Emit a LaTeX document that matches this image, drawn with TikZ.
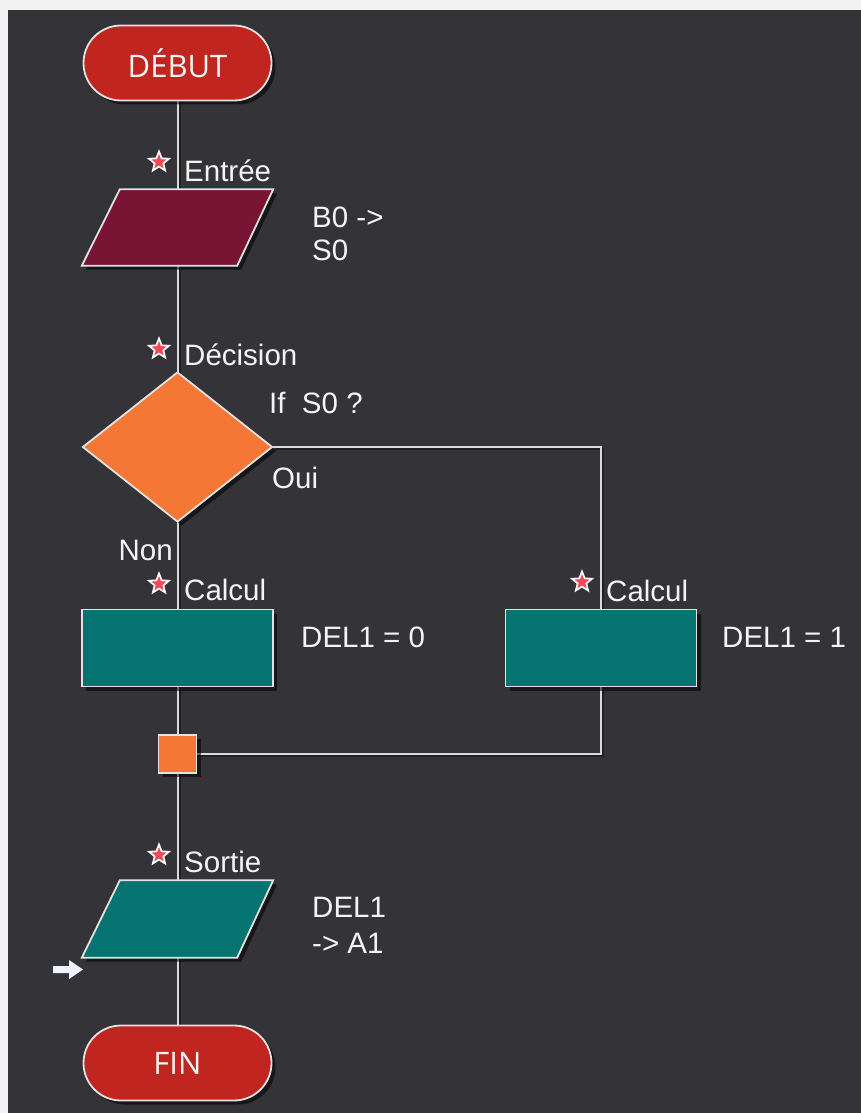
\documentclass[tikz,border=0pt]{standalone}
\usepackage{fontspec}
\usetikzlibrary{shapes.geometric,shapes.misc,shadows,calc}
\newfontfamily\labfont{Liberation Sans}
\newfontfamily\termfont{Open Sans}
\definecolor{frame}{RGB}{242,242,242}
\definecolor{bgdark}{RGB}{52,52,56}
\definecolor{termred}{RGB}{193,37,31}
\definecolor{inmaroon}{RGB}{122,20,52}
\definecolor{decorange}{RGB}{244,119,53}
\definecolor{calcteal}{RGB}{5,115,112}
\definecolor{wire}{RGB}{218,218,218}
\definecolor{edge}{RGB}{226,226,226}
\definecolor{starred}{RGB}{244,72,86}
\definecolor{txt}{RGB}{244,244,244}
\definecolor{cursor}{RGB}{236,244,255}
\begin{document}
\begin{tikzpicture}[x=1pt,y=-1pt,
  shadowed/.style={drop shadow={shadow xshift=4pt,shadow yshift=-4pt,fill=black,opacity=.55}},
  painted/.style={draw=edge,line width=1.8pt,shadowed},
  termshape/.style={rounded rectangle,minimum width=188pt,minimum height=75pt,inner sep=0pt},
  terminal/.style={termshape,painted,fill=termred,text=txt,
    font=\termfont\fontsize{31}{33}\selectfont},
  holder/.style={rectangle,minimum width=191pt,minimum height=76pt,inner sep=0pt},
  decshape/.style={diamond,minimum width=190pt,minimum height=150pt,inner sep=0pt},
  decision/.style={decshape,painted,fill=decorange},
  procshape/.style={rectangle,minimum width=191pt,minimum height=77pt,inner sep=0pt},
  process/.style={procshape,painted,fill=calcteal},
  jointshape/.style={rectangle,minimum size=38pt,inner sep=0pt},
  joint/.style={jointshape,painted,fill=decorange},
  stepstar/.style={star,star points=5,star point ratio=2.3,minimum size=21pt,inner sep=0pt,
    fill=starred,draw=white,line width=1.7pt},
  lbl/.style={anchor=base west,inner sep=0pt,text=txt,font=\labfont\fontsize{29.5}{31}\selectfont},
  lblr/.style={lbl,anchor=base east},
  wireline/.style={draw=wire,line width=2pt}
]
% frame and canvas
\fill[frame] (0,0) rectangle (861,1113);
\fill[bgdark] (8,10) rectangle (861,1113);
\useasboundingbox (0,0) rectangle (861,1113);

% outline nodes that the connectors attach to
\node[termshape] (debut) at (177.5,63) {};
\node[holder] (entree) at (177.5,227.5) {};
\node[decshape] (dec) at (177.5,447) {};
\node[procshape] (calcA) at (177.5,648) {};
\node[procshape] (calcB) at (601,648) {};
\node[jointshape] (joint) at (177.5,754) {};
\node[holder,minimum height=77pt] (sortie) at (177.5,919) {};
\node[termshape] (fin) at (177.5,1063) {};

% connectors (faint shadow, then the wire)
\begin{scope}[transform canvas={xshift=2pt,yshift=-2pt}]
\path[draw=black,opacity=.35,line width=2pt]
  (debut.south) -- (entree.north)
  (entree.south) -- (dec.north)
  (dec.south) -- (calcA.north)
  (dec.east) -| (calcB.north)
  (calcA.south) -- (joint.north)
  (calcB.south) |- (joint.east)
  (joint.south) -- (sortie.north)
  (sortie.south) -- (fin.north);
\end{scope}
\path[wireline] (debut.south) -- (entree.north);
\path[wireline] (entree.south) -- (dec.north);
\path[wireline] (dec.south) -- (calcA.north);
\path[wireline] (dec.east) -| (calcB.north);
\path[wireline] (calcA.south) -- (joint.north);
\path[wireline] (calcB.south) |- (joint.east);
\path[wireline] (joint.south) -- (sortie.north);
\path[wireline] (sortie.south) -- (fin.north);

% filled shapes
\node[terminal] (debutbox) at (debut) {DÉBUT};
\path[fill=inmaroon,painted]
  ([xshift=38pt]entree.north west) -- (entree.north east)
  -- ([xshift=-36pt]entree.south east) -- (entree.south west) -- cycle;
\node[decision] (decbox) at (dec) {};
\node[process] (calcAbox) at (calcA) {};
\node[process] (calcBbox) at (calcB) {};
\node[joint] (jointbox) at (joint) {};
\path[fill=calcteal,painted]
  ([xshift=38pt]sortie.north west) -- (sortie.north east)
  -- ([xshift=-36pt]sortie.south east) -- (sortie.south west) -- cycle;
\node[terminal] (finbox) at (fin) {FIN};

% step markers
\node[stepstar] (m1) at (159,162) {};
\node[stepstar] (m2) at (159,349) {};
\node[stepstar] (m3) at (159,584) {};
\node[stepstar] (m4) at (582,582) {};
\node[stepstar] (m5) at (159,855) {};

% labels
\node[lbl] (t1) at (184,181) {Entrée};
\node[lbl] (t2) at (312,227) {B0 ->};
\node[lbl] (t3) at (312,260) {S0};
\node[lbl] (t4) at (184,365) {Décision};
\node[lbl] (t5) at (269,413) {If\ \ S0 ?};
\node[lbl] (t6) at (272,488) {Oui};
\node[lblr] (t7) at (173,560) {Non};
\node[lbl] (t8) at (184,600) {Calcul};
\node[lbl] (t9) at (301,647) {DEL1 = 0};
\node[lbl] (t10) at (606,601) {Calcul};
\node[lbl] (t11) at (722,647) {DEL1 = 1};
\node[lbl] (t12) at (184,872) {Sortie};
\node[lbl] (t13) at (312,917) {DEL1};
\node[lbl] (t14) at (312,953) {-> A1};

% run cursor
\fill[cursor] (53,966) -- (69,966) -- (69,960) -- (83,969.5) -- (69,979) -- (69,973) -- (53,973) -- cycle;
\end{tikzpicture}
\end{document}
